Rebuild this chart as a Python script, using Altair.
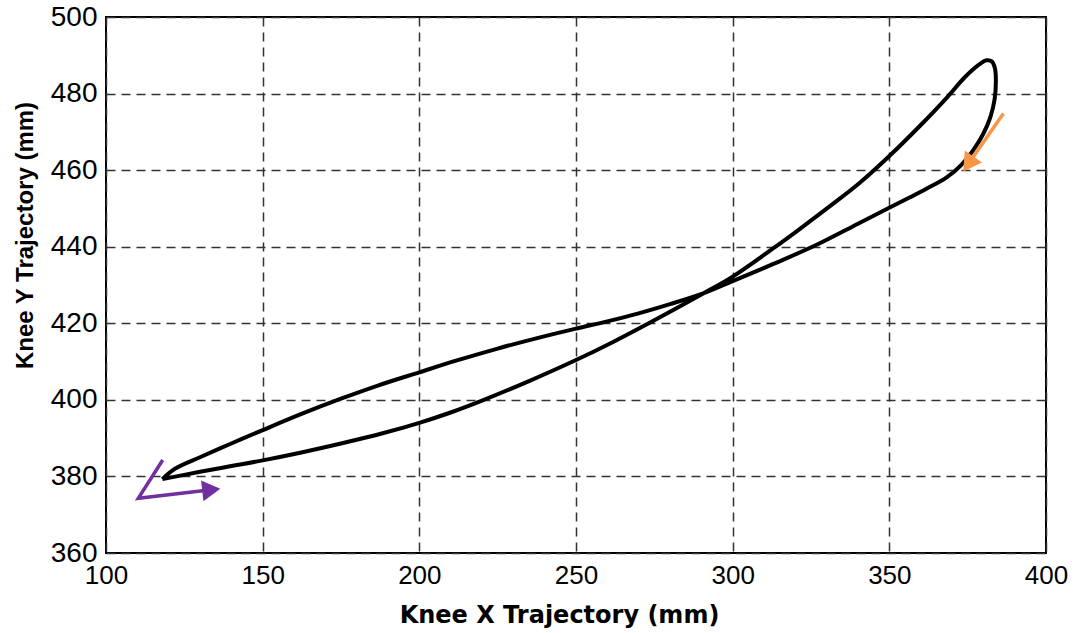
import altair as alt
import pandas as pd

# Knee trajectory loop (mm), traced in drawing order
loop_x = [118.0, 130.0, 140.0, 150.0, 162.0, 175.0, 188.0, 200.0,
          210.0, 220.0, 235.0, 250.0, 262.0, 275.0, 290.6, 300.0, 313.0,
          322.0, 332.2, 340.0, 349.5, 359.8, 368.3, 374.0, 378.5, 381.0, 382.7, 383.7,
          384.0, 383.6, 382.3, 380.0, 377.0, 373.0, 368.3, 362.0, 356.6, 349.5,
          340.0, 326.8, 313.0, 300.0, 290.6, 280.0, 270.0, 260.0, 250.0,
          237.0, 225.0, 212.0, 200.0, 187.0, 175.0, 162.0, 150.0,
          140.0, 130.0, 122.0, 118.0]
loop_y = [379.3, 381.2, 382.7, 384.2, 386.2, 388.6, 391.2, 394.0,
          396.7, 399.8, 404.9, 410.4, 415.2, 420.8, 427.8, 432.2, 439.6,
          445.0, 451.3, 456.3, 463.3, 471.6, 478.9, 484.2, 487.5, 488.7, 488.4, 486.6,
          483.0, 478.5, 474.0, 469.5, 465.5, 461.4, 458.1, 455.2, 452.9, 450.0,
          446.0, 440.5, 435.5, 431.0, 427.8, 425.0, 422.6, 420.5, 418.6,
          416.0, 413.4, 410.3, 407.2, 403.8, 400.3, 396.2, 392.1,
          388.6, 385.0, 382.0, 379.3]

# Direction arrows
purple_x = [118.1, 110.3, 133.6]
purple_y = [384.3, 374.3, 376.5]
purple_head_x = [133.6]
purple_head_y = [376.5]
orange_x = [386.4, 375.2]
orange_y = [474.8, 461.6]
orange_head_x = [375.2]
orange_head_y = [461.6]

x_ticks = [100, 150, 200, 250, 300, 350, 400]
y_ticks = [360, 380, 400, 420, 440, 460, 480, 500]

loop_df = pd.DataFrame({"x": loop_x, "y": loop_y, "i": range(len(loop_x))})
purple_df = pd.DataFrame({"x": purple_x, "y": purple_y, "i": range(len(purple_x))})
orange_df = pd.DataFrame({"x": orange_x, "y": orange_y, "i": range(len(orange_x))})
ph_df = pd.DataFrame({"x": purple_head_x, "y": purple_head_y})
oh_df = pd.DataFrame({"x": orange_head_x, "y": orange_head_y})

xscale = alt.Scale(domain=[100, 400], nice=False, zero=False)
yscale = alt.Scale(domain=[360, 500], nice=False, zero=False)

xaxis = alt.Axis(
    title="Knee X Trajectory (mm)", values=x_ticks, grid=True, ticks=False, domain=False,
    gridDash=[9, 6], gridColor="#333333", gridWidth=1.5, gridOpacity=1,
    labelFont="Liberation Sans", labelFontSize=26, labelColor="black", labelPadding=9,
    labelOverlap=False, labelFlush=False,
    titleFont="DejaVu Sans", titleFontWeight="bold", titleFontSize=24, titleColor="black",
    titleX=453, titleY=69, titleAlign="center", titleBaseline="alphabetic",
)
yaxis = alt.Axis(
    title="Knee Y Trajectory (mm)", values=y_ticks, grid=True, ticks=False, domain=False,
    gridDash=[9, 6], gridColor="#333333", gridWidth=1.5, gridOpacity=1,
    labelFont="Liberation Sans", labelFontSize=28, labelColor="black", labelPadding=9,
    labelOverlap=False, labelFlush=False,
    titleFont="Liberation Sans", titleFontWeight="bold", titleFontSize=24, titleColor="black",
    titleAngle=270, titleX=-74, titleY=218, titleAlign="center", titleBaseline="alphabetic",
)


def X():
    return alt.X("x:Q", scale=xscale, axis=xaxis)


def Y():
    return alt.Y("y:Q", scale=yscale, axis=yaxis)


loop = alt.Chart(loop_df).mark_line(
    color="black", strokeWidth=4, strokeJoin="round", interpolate="catmull-rom"
).encode(x=X(), y=Y(), order="i:Q")
purple = alt.Chart(purple_df).mark_line(color="#7030A0", strokeWidth=3.5).encode(
    x=X(), y=Y(), order="i:Q")
purple_head = alt.Chart(ph_df).mark_point(
    shape="triangle-right", filled=True, color="#7030A0", size=440, angle=353.5, opacity=1
).encode(x=X(), y=Y())
orange = alt.Chart(orange_df).mark_line(color="#F79646", strokeWidth=3.5).encode(
    x=X(), y=Y(), order="i:Q")
orange_head = alt.Chart(oh_df).mark_point(
    shape="triangle-up", filled=True, color="#F79646", size=440, angle=214.4, opacity=1
).encode(x=X(), y=Y())

chart = alt.layer(loop, purple, purple_head, orange, orange_head).properties(
    width=940, height=536,
    autosize=alt.AutoSizeParams(type="none"),
    padding={"left": 106, "top": 17, "right": 28, "bottom": 80},
    background="white",
).configure_view(stroke="black", strokeWidth=2)

chart.save("out.html", embed_options={"renderer": "svg", "actions": False})
